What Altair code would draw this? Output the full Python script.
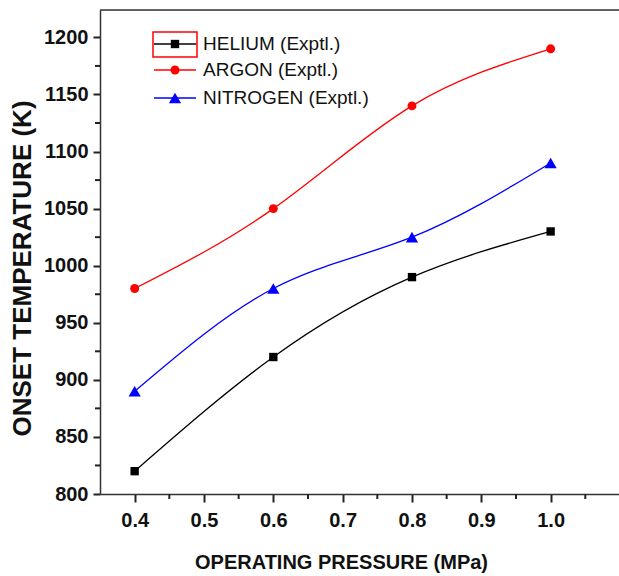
import altair as alt
import pandas as pd

pressure = [0.4, 0.6, 0.8, 1.0]
series = ["HELIUM (Exptl.)", "ARGON (Exptl.)", "NITROGEN (Exptl.)"]
helium = [820, 920, 990, 1030]
argon = [980, 1050, 1140, 1190]
nitrogen = [890, 980, 1025, 1090]
colors = ["#000000", "#ff0000", "#0000ff"]
shapes = ["square", "circle", "triangle-up"]
sizes = [70, 80, 150]
x_ticks = [0.4, 0.5, 0.6, 0.7, 0.8, 0.9, 1.0]
x_minor = [0.45, 0.55, 0.65, 0.75, 0.85, 0.95, 1.05]
y_ticks = [800, 850, 900, 950, 1000, 1050, 1100, 1150, 1200]
y_minor = [825, 875, 925, 975, 1025, 1075, 1125, 1175]

W, H = 519, 484
FONT = "Liberation Sans"

rows = []
for name, vals in zip(series, [helium, argon, nitrogen]):
    for p, v in zip(pressure, vals):
        rows.append({"series": name, "p": p, "t": v})
df = pd.DataFrame(rows)

xs = alt.Scale(domain=[0.35, 1.0986], nice=False, zero=False)
ys = alt.Scale(domain=[800, 1224], nice=False, zero=False)
cs = alt.Scale(domain=series, range=colors)

xaxis = alt.Axis(values=x_ticks, format=".1f", title="OPERATING PRESSURE (MPa)",
                 grid=False, tickSize=8, tickWidth=2, tickColor="#222",
                 domainColor="#333", domainWidth=1.5,
                 labelFont=FONT, labelFontWeight="bold", labelFontSize=20, labelColor="#111",
                 labelPadding=8,
                 titleFont=FONT, titleFontWeight="bold", titleFontSize=20, titleColor="#111",
                 titleX=241, titleY=68, titleBaseline="middle", titleAlign="center")
yaxis = alt.Axis(values=y_ticks, format="d", title="ONSET TEMPERATURE (K)",
                 grid=False, tickSize=7, tickWidth=2, tickColor="#222",
                 domainColor="#333", domainWidth=1.5,
                 labelFont=FONT, labelFontWeight="bold", labelFontSize=20, labelColor="#111",
                 labelPadding=5,
                 titleFont=FONT, titleFontWeight="bold", titleFontSize=26, titleColor="#111",
                 titleX=-78, titleY=258, titleBaseline="middle", titleAlign="center", titleAngle=270)

base = alt.Chart(df)
lines = base.mark_line(interpolate="natural", strokeWidth=1.3).encode(
    x=alt.X("p:Q", scale=xs, axis=xaxis),
    y=alt.Y("t:Q", scale=ys, axis=yaxis),
    color=alt.Color("series:N", scale=cs, legend=None),
    detail="series:N",
)

point_layers = []
for name, col, shp, sz in zip(series, colors, shapes, sizes):
    point_layers.append(
        base.transform_filter(alt.datum.series == name)
        .mark_point(filled=True, opacity=1, color=col, shape=shp, size=sz)
        .encode(x=alt.X("p:Q", scale=xs), y=alt.Y("t:Q", scale=ys))
    )

xminor_df = pd.DataFrame({"m": x_minor})
xminor = alt.Chart(xminor_df).mark_rule(color="#222", strokeWidth=2).encode(
    x=alt.X("m:Q", scale=xs), y=alt.value(H), y2=alt.value(H + 5))
yminor_df = pd.DataFrame({"m": y_minor})
yminor = alt.Chart(yminor_df).mark_rule(color="#222", strokeWidth=2).encode(
    y=alt.Y("m:Q", scale=ys), x=alt.value(-5), x2=alt.value(0))

top = alt.Chart(pd.DataFrame({"a": [0]})).mark_rule(color="#333", strokeWidth=1.5).encode(
    x=alt.value(0), x2=alt.value(W + 5), y=alt.value(0))

legend_layers = []
row_y = [34, 60, 88]
for name, col, shp, sz, ry in zip(series, colors, shapes, sizes, row_y):
    ldf = pd.DataFrame({"name": [name]})
    lc = alt.Chart(ldf)
    legend_layers.append(lc.mark_rule(color=col, strokeWidth=1.3).encode(
        x=alt.value(54), x2=alt.value(96), y=alt.value(ry)))
    legend_layers.append(lc.mark_point(filled=True, opacity=1, size=sz, color=col, shape=shp).encode(
        x=alt.value(75), y=alt.value(ry)))
    legend_layers.append(lc.mark_text(align="left", baseline="middle", font=FONT, fontSize=19,
                                      color="#111").encode(
        x=alt.value(103), y=alt.value(ry), text="name:N"))

sel_box = alt.Chart(pd.DataFrame({"a": [0]})).mark_rect(fill=None, fillOpacity=0, stroke="#ff0000",
                                                       strokeWidth=1.5).encode(
    x=alt.value(53), x2=alt.value(97), y=alt.value(22), y2=alt.value(47))

chart = alt.layer(lines, *point_layers, xminor, yminor, top, sel_box, *legend_layers).properties(
    width=W, height=H,
    autosize=alt.AutoSizeParams(type="none"),
    padding={"left": 100, "top": 10, "right": 0, "bottom": 82},
).configure_view(stroke=None).configure(background="white")

chart.save("out.html", embed_options={"renderer": "svg", "actions": False})
